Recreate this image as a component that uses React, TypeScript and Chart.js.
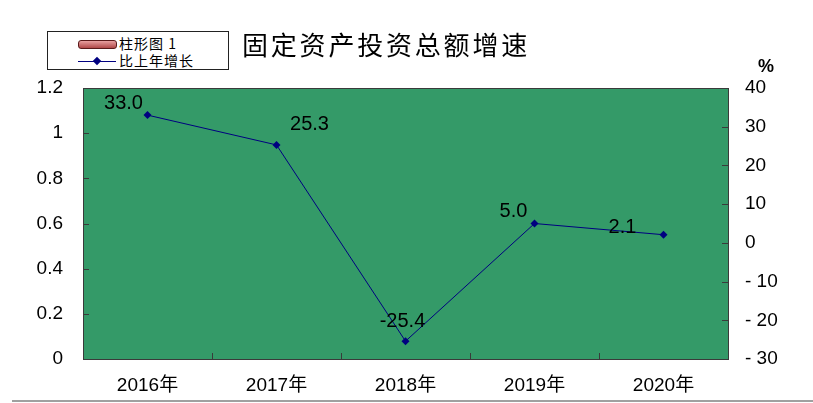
import React, { useEffect, useRef } from "react";
import { Chart, registerables } from "chart.js";

Chart.register(...registerables);

const categories = ["2016年", "2017年", "2018年", "2019年", "2020年"];
const barValues = [0, 0, 0, 0, 0];
const growthValues = [33.0, 25.3, -25.4, 5.0, 2.1];
const growthLabels = ["33.0", "25.3", "-25.4", "5.0", "2.1"];
const labelOffsets = [
  [-24, -12],
  [33, -20],
  [-3, -20],
  [-21, -12],
  [-41, -7],
];

const FONT = '"Liberation Sans", Arial, "Noto Sans CJK SC", sans-serif';
const CJK = '"Noto Sans CJK SC", "Liberation Sans", sans-serif';

const framePlugin = {
  id: "frame",
  beforeDatasetsDraw(chart: any) {
    const { ctx, chartArea: a } = chart;
    ctx.save();
    ctx.fillStyle = "#349a68";
    ctx.fillRect(a.left, a.top, a.right - a.left, a.bottom - a.top);
    ctx.restore();
  },
  afterDatasetsDraw(chart: any) {
    const { ctx, chartArea: a, scales } = chart;
    ctx.save();
    ctx.strokeStyle = "#3a3a3a";
    ctx.lineWidth = 1;
    ctx.strokeRect(Math.round(a.left) + 0.5, Math.round(a.top) + 0.5, Math.round(a.right - a.left), Math.round(a.bottom - a.top));
    ctx.beginPath();
    scales.y.ticks.forEach((t: any) => {
      const py = Math.round(scales.y.getPixelForValue(t.value)) + 0.5;
      ctx.moveTo(a.left, py);
      ctx.lineTo(a.left + 6, py);
    });
    scales.y1.ticks.forEach((t: any) => {
      const py = Math.round(scales.y1.getPixelForValue(t.value)) + 0.5;
      ctx.moveTo(a.right - 6, py);
      ctx.lineTo(a.right, py);
    });
    const n = categories.length;
    const w = (a.right - a.left) / n;
    for (let i = 1; i < n; i++) {
      const px = Math.round(a.left + w * i) + 0.5;
      ctx.moveTo(px, a.bottom);
      ctx.lineTo(px, a.bottom - 6);
    }
    ctx.stroke();

    const meta = chart.getDatasetMeta(1);
    ctx.fillStyle = "#000";
    ctx.font = "20px " + FONT;
    ctx.textAlign = "center";
    ctx.textBaseline = "middle";
    meta.data.forEach((pt: any, i: number) => {
      const off = labelOffsets[i];
      ctx.fillText(growthLabels[i], pt.x + off[0], pt.y + off[1]);
    });
    ctx.restore();
  },
};

export default function App() {
  const ref = useRef<HTMLCanvasElement>(null);
  useEffect(() => {
    if (!ref.current) return;
    const chart = new Chart(ref.current, {
      type: "bar",
      data: {
        labels: categories,
        datasets: [
          {
            type: "bar",
            label: "柱形图 1",
            data: barValues,
            yAxisID: "y",
            backgroundColor: "#c06060",
          },
          {
            type: "line",
            label: "比上年增长",
            data: growthValues,
            yAxisID: "y1",
            borderColor: "#000080",
            borderWidth: 1,
            backgroundColor: "#000080",
            pointStyle: "rectRot",
            pointRadius: 4,
            pointBorderWidth: 0,
            tension: 0,
          } as any,
        ],
      },
      options: {
        responsive: false,
        animation: false,
        layout: { padding: { top: 88, left: 0, right: 0, bottom: 0 } },
        plugins: { legend: { display: false }, title: { display: false }, tooltip: { enabled: false } },
        scales: {
          x: {
            grid: { display: false, drawTicks: false },
            border: { display: false },
            ticks: { color: "#000", font: { size: 19, family: FONT }, padding: 15, maxRotation: 0 },
            afterFit: (s: any) => {
              s.height = 44;
            },
          },
          y: {
            position: "left",
            min: 0,
            max: 1.2,
            grid: { display: false, drawTicks: false },
            border: { display: false },
            ticks: {
              stepSize: 0.2,
              color: "#000",
              font: { size: 19, family: FONT },
              padding: 20,
              callback: (v: any) => String(Math.round(Number(v) * 10) / 10),
            },
            afterFit: (s: any) => {
              s.width = 83;
            },
          },
          y1: {
            position: "right",
            min: -30,
            max: 40,
            grid: { display: false, drawTicks: false },
            border: { display: false },
            ticks: {
              stepSize: 10,
              color: "#000",
              font: { size: 19, family: FONT },
              padding: 17,
              callback: (v: any) => (Number(v) < 0 ? "- " + Math.abs(Number(v)) : String(v)),
            },
            afterFit: (s: any) => {
              s.width = 85;
            },
          },
        },
      },
      plugins: [framePlugin],
    } as any);
    return () => chart.destroy();
  }, []);

  return (
    <div style={{ position: "fixed", left: 0, top: 0, width: 813, height: 403, background: "#fff", overflow: "hidden" }}>
      <canvas ref={ref} width={813} height={403} style={{ display: "block" }} />
      <div
        style={{
          position: "absolute",
          left: 47,
          top: 31,
          width: 180,
          height: 37,
          border: "1px solid #222",
          background: "#fff",
          fontFamily: CJK,
          fontSize: 14,
          color: "#000",
        }}
      >
        <div style={{ position: "absolute", left: 30, top: 8, width: 37, height: 7, borderRadius: 3, border: "1px solid #5a1a1a", background: "linear-gradient(#e8a0a0, #b04848)" }} />
        <div style={{ position: "absolute", left: 71, top: 3, lineHeight: "17px", whiteSpace: "nowrap", letterSpacing: 1 }}>柱形图 1</div>
        <div style={{ position: "absolute", left: 30, top: 29, width: 38, height: 1, background: "#000080" }} />
        <div style={{ position: "absolute", left: 46, top: 26, width: 6, height: 6, background: "#000080", transform: "rotate(45deg)" }} />
        <div style={{ position: "absolute", left: 71, top: 20, lineHeight: "17px", whiteSpace: "nowrap", letterSpacing: 1 }}>比上年增长</div>
      </div>
      <div style={{ position: "absolute", left: 242, top: 28, fontFamily: CJK, fontSize: 26, letterSpacing: 2.8, lineHeight: "32px", color: "#000", whiteSpace: "nowrap" }}>
        固定资产投资总额增速
      </div>
      <div style={{ position: "absolute", left: 758, top: 56, fontFamily: FONT, fontSize: 18, fontWeight: "bold", color: "#000" }}>%</div>
      <div style={{ position: "absolute", left: 12, top: 400, width: 801, height: 2, background: "#a0a0a0" }} />
    </div>
  );
}
